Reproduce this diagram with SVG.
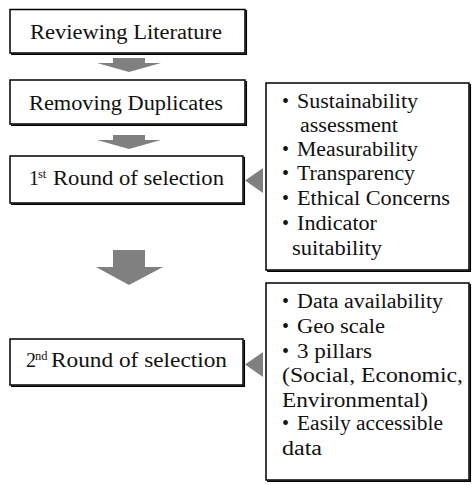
<svg xmlns="http://www.w3.org/2000/svg" width="472" height="485" viewBox="0 0 472 485">
<style>
.box{fill:#fff;stroke:#000;stroke-width:1.5}
.sh{fill:none;stroke:#000;stroke-width:1.5}
.t{font-family:"Liberation Serif","Times New Roman",Times,"Nimbus Roman","Noto Serif","DejaVu Serif",FreeSerif,serif;font-size:20px;fill:#111}
.sup{font-family:"Liberation Serif","Times New Roman",Times,"Nimbus Roman","Noto Serif","DejaVu Serif",FreeSerif,serif;font-size:12.5px;fill:#111}
.arr{fill:#808080}
</style>
<rect width="472" height="485" fill="#fff"/>
<g id="connectors">
<polygon class="arr" points="113,58 145,58 145,63 161,63 129,72 97,63 113,63"/>
<polygon class="arr" points="113,135 145,135 145,140 161,140 129,149 97,140 113,140"/>
<polygon class="arr" points="113,250 145,250 145,267 163,267 129,285 96,267 113,267"/>
<polygon class="arr" points="263,168 263,193 245,180.5"/>
<polygon class="arr" points="263,352 263,377 245,364.5"/>
</g>
<g id="n1">
<rect class="box" x="10" y="9.5" width="235" height="43.5"/>
<polyline class="sh" points="11,54.3 246.3,54.3 246.3,10"/>
<text class="t" x="30" y="38.5" textLength="192" lengthAdjust="spacingAndGlyphs">Reviewing Literature</text>
</g>
<g id="n2">
<rect class="box" x="10" y="80" width="235" height="44"/>
<polyline class="sh" points="11,125.3 246.3,125.3 246.3,81"/>
<text class="t" x="29" y="110" textLength="194" lengthAdjust="spacingAndGlyphs">Removing Duplicates</text>
</g>
<g id="n3">
<rect class="box" x="10" y="156" width="233" height="47"/>
<polyline class="sh" points="11,204.3 244.3,204.3 244.3,157"/>
<text class="t" x="29" y="185">1</text>
<text class="sup" x="38" y="178">st</text>
<text class="t" x="53" y="185" textLength="171" lengthAdjust="spacingAndGlyphs">Round of selection</text>
</g>
<g id="n4">
<rect class="box" x="10" y="339" width="233" height="46"/>
<polyline class="sh" points="11,386.3 244.3,386.3 244.3,340"/>
<text class="t" x="26" y="367">2</text>
<text class="sup" x="35" y="360">nd</text>
<text class="t" x="51" y="367" textLength="176" lengthAdjust="spacingAndGlyphs">Round of selection</text>
</g>
<g id="n5">
<rect class="box" x="266" y="83" width="203" height="187"/>
<polyline class="sh" points="267,271.3 470.3,271.3 470.3,84"/>
<text class="t" x="282" y="108">•</text>
<text class="t" x="297" y="108" textLength="121" lengthAdjust="spacingAndGlyphs">Sustainability</text>
<text class="t" x="300" y="132" textLength="98" lengthAdjust="spacingAndGlyphs">assessment</text>
<text class="t" x="282" y="156">•</text>
<text class="t" x="297" y="156" textLength="121" lengthAdjust="spacingAndGlyphs">Measurability</text>
<text class="t" x="282" y="180">•</text>
<text class="t" x="297" y="180" textLength="118" lengthAdjust="spacingAndGlyphs">Transparency</text>
<text class="t" x="282" y="205">•</text>
<text class="t" x="297" y="205" textLength="153" lengthAdjust="spacingAndGlyphs">Ethical Concerns</text>
<text class="t" x="282" y="230">•</text>
<text class="t" x="297" y="230" textLength="80" lengthAdjust="spacingAndGlyphs">Indicator</text>
<text class="t" x="292" y="255" textLength="90" lengthAdjust="spacingAndGlyphs">suitability</text>
</g>
<g id="n6">
<rect class="box" x="266" y="283" width="203" height="197"/>
<polyline class="sh" points="267,481.3 470.3,481.3 470.3,284"/>
<text class="t" x="282" y="308">•</text>
<text class="t" x="297" y="308" textLength="146" lengthAdjust="spacingAndGlyphs">Data availability</text>
<text class="t" x="282" y="333">•</text>
<text class="t" x="297" y="333" textLength="88" lengthAdjust="spacingAndGlyphs">Geo scale</text>
<text class="t" x="282" y="358">•</text>
<text class="t" x="297" y="358" textLength="75" lengthAdjust="spacingAndGlyphs">3 pillars</text>
<text class="t" x="282" y="382" textLength="181" lengthAdjust="spacingAndGlyphs">(Social, Economic,</text>
<text class="t" x="282" y="407" textLength="146" lengthAdjust="spacingAndGlyphs">Environmental)</text>
<text class="t" x="282" y="430">•</text>
<text class="t" x="297" y="430" textLength="146" lengthAdjust="spacingAndGlyphs">Easily accessible</text>
<text class="t" x="282" y="455" textLength="40" lengthAdjust="spacingAndGlyphs">data</text>
</g>
</svg>
